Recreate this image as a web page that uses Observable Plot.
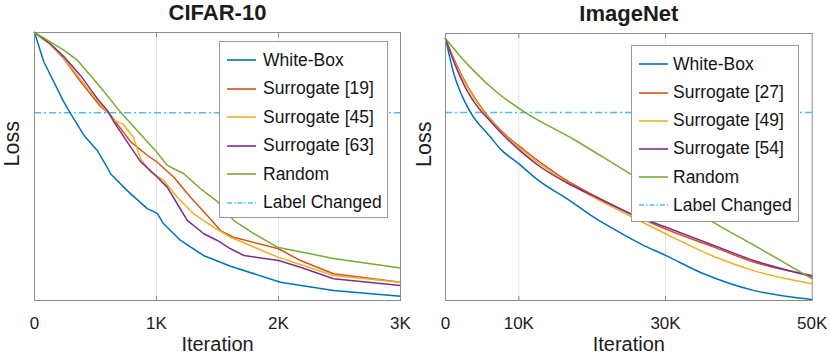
<!DOCTYPE html>
<html>
<head>
<meta charset="utf-8">
<script src="https://cdn.jsdelivr.net/npm/d3@7"></script>
<script src="https://cdn.jsdelivr.net/npm/@observablehq/plot@0.6"></script>
<style>
  body { margin: 0; background: #fff; font-family: "Liberation Sans", Arial, sans-serif; }
  #wrap { position: relative; width: 830px; height: 355px; overflow: hidden; }
  .panel { position: absolute; top: 0; }
  .legend { position: absolute; background: #fff; border: 1px solid #9a9a9a; box-sizing: border-box; font-size: 17.5px; color: #151515; }
  .row { position: absolute; left: 0; height: 20px; display: flex; align-items: center; white-space: nowrap; }
  .row svg { display: block; }
</style>
</head>
<body>
<div id="wrap"></div>
<script>
// ---------- CIFAR-10 (left) ----------
const cifarTitle = "CIFAR-10";
const cifarTicks = [0, 1000, 2000, 3000];
const cifarTickLabels = ["0", "1K", "2K", "3K"];
const cifarGrid = [1000, 2000];
const cifarLabelChanged = 0.701;
const cifarNames = ["White-Box", "Surrogate [19]", "Surrogate [45]", "Surrogate [63]", "Random"];

const cifarWhiteBoxX = [0, 76, 240, 295, 404, 514, 596, 623, 760, 924, 1006, 1057, 1197, 1385, 1607, 2016, 2450, 3000];
const cifarWhiteBoxY = [1.0, 0.891, 0.741, 0.698, 0.617, 0.56, 0.497, 0.473, 0.41, 0.343, 0.325, 0.287, 0.224, 0.168, 0.128, 0.068, 0.037, 0.016];

const cifarSur19X = [0, 130, 240, 377, 541, 623, 787, 924, 1006, 1142, 1279, 1416, 1525, 1631, 2000, 2180, 2451, 3000];
const cifarSur19Y = [1.0, 0.955, 0.903, 0.817, 0.724, 0.692, 0.593, 0.542, 0.516, 0.46, 0.385, 0.317, 0.261, 0.236, 0.193, 0.149, 0.1, 0.068];

const cifarSur45X = [0, 130, 238, 377, 541, 623, 650, 729, 811, 869, 951, 1060, 1170, 1306, 1470, 1607, 2000, 2451, 3000];
const cifarSur45Y = [1.0, 0.955, 0.907, 0.825, 0.731, 0.69, 0.673, 0.657, 0.608, 0.53, 0.479, 0.448, 0.385, 0.323, 0.273, 0.236, 0.161, 0.093, 0.068];

const cifarSur63X = [0, 130, 240, 377, 514, 596, 650, 760, 869, 978, 1088, 1170, 1252, 1388, 1498, 1607, 1716, 2000, 2180, 2451, 3000];
const cifarSur63Y = [1.0, 0.958, 0.91, 0.84, 0.754, 0.71, 0.667, 0.592, 0.518, 0.473, 0.423, 0.361, 0.299, 0.249, 0.224, 0.193, 0.168, 0.149, 0.124, 0.081, 0.056];

const cifarRandomX = [0, 130, 240, 350, 541, 705, 869, 1000, 1088, 1224, 1361, 1498, 1634, 1800, 1990, 2450, 3000];
const cifarRandomY = [1.0, 0.965, 0.934, 0.897, 0.796, 0.703, 0.62, 0.555, 0.504, 0.473, 0.417, 0.37, 0.298, 0.249, 0.199, 0.157, 0.121];

// ---------- ImageNet (right) ----------
const imagenetTitle = "ImageNet";
const imagenetTicks = [0, 10000, 30000, 50000];
const imagenetTickLabels = ["0", "10K", "30K", "50K"];
const imagenetGrid = [10000, 30000];
const imagenetLabelChanged = 0.704;
const imagenetNames = ["White-Box", "Surrogate [27]", "Surrogate [49]", "Surrogate [54]", "Random"];

const imagenetWhiteBoxX = [0, 500, 1130, 2200, 3410, 6140, 7500, 10000, 12950, 16600, 20200, 22900, 26600, 30000, 35200, 42100, 50000];
const imagenetWhiteBoxY = [0.981, 0.92, 0.85, 0.77, 0.705, 0.612, 0.567, 0.512, 0.444, 0.381, 0.312, 0.268, 0.212, 0.169, 0.1, 0.037, 0.004];

const imagenetSur27X = [0, 1130, 2960, 5220, 8410, 10900, 13400, 16130, 19770, 24770, 30000, 36600, 42000, 50000];
const imagenetSur27Y = [0.981, 0.905, 0.805, 0.71, 0.615, 0.56, 0.508, 0.456, 0.4, 0.331, 0.268, 0.2, 0.144, 0.094];

const imagenetSur49X = [0, 1130, 2960, 5220, 8410, 10900, 13400, 16130, 19770, 24770, 30000, 36600, 42000, 50000];
const imagenetSur49Y = [0.981, 0.9, 0.8, 0.705, 0.61, 0.553, 0.5, 0.45, 0.393, 0.322, 0.25, 0.165, 0.112, 0.0625];

const imagenetSur54X = [0, 1130, 2960, 3860, 6140, 8410, 10000, 12950, 16600, 20700, 25200, 30000, 36600, 42000, 50000];
const imagenetSur54Y = [0.981, 0.895, 0.785, 0.745, 0.67, 0.605, 0.565, 0.5, 0.44, 0.385, 0.325, 0.275, 0.206, 0.15, 0.09];

const imagenetRandomX = [0, 2000, 3860, 7000, 10900, 17500, 23860, 30000, 37500, 44300, 50000];
const imagenetRandomY = [0.981, 0.915, 0.86, 0.78, 0.704, 0.603, 0.497, 0.395, 0.277, 0.172, 0.081];

// ---------- styling ----------
const colors = ["#0072BD", "#D95319", "#EDB120", "#7E2F8E", "#77AC30"];
const labelColor = "#4DBEEE";
const labelDash = "7,3,2,3";
const fontFamily = "'Liberation Sans', Arial, sans-serif";

function makeSeries(names, xs, ys) {
  return names.map((name, i) => ({ name, color: colors[i], x: xs[i], y: ys[i] }));
}

function panel(cfg) {
  const marks = [
    Plot.gridX(cfg.grid, { stroke: "#e3e3e3", strokeOpacity: 1, strokeWidth: 1 }),
    Plot.ruleY([cfg.labelY], { stroke: labelColor, strokeWidth: 1.5, strokeDasharray: labelDash })
  ];
  for (const s of cfg.series) {
    const rows = s.x.map((x, i) => ({ x, y: s.y[i] }));
    marks.push(Plot.line(rows, { x: "x", y: "y", stroke: s.color, strokeWidth: 1.5, curve: cfg.curve }));
  }
  marks.push(
    Plot.frame({ stroke: "#8c8c8c", strokeWidth: 1 }),
    Plot.axisX(cfg.grid, { anchor: "bottom", tickSize: -4, tickFormat: () => "", label: null, stroke: "#8c8c8c" }),
    Plot.axisX(cfg.grid, { anchor: "top", tickSize: -4, tickFormat: () => "", label: null, stroke: "#8c8c8c" }),
    Plot.axisX(cfg.ticks, {
      anchor: "bottom", tickSize: 0, tickPadding: 16.5, fontSize: 17, label: null,
      tickFormat: d => cfg.tickLabels[cfg.ticks.indexOf(d)]
    }),
    Plot.text([cfg.title], { text: d => d, frameAnchor: "top", lineAnchor: "top", dy: -28, fontSize: 22, fontWeight: "bold" }),
    Plot.text(["Iteration"], { text: d => d, frameAnchor: "bottom", lineAnchor: "top", dy: 35.8, fontSize: 20 }),
    Plot.text(["Loss"], { text: d => d, frameAnchor: "left", rotate: -90, lineAnchor: "middle", dx: cfg.yLabelDx, fontSize: 21.5 })
  );
  return Plot.plot({
    width: 415, height: 355,
    marginLeft: cfg.mL, marginRight: cfg.mR, marginTop: cfg.mT, marginBottom: 55,
    style: { fontFamily, overflow: "visible", background: "transparent", color: "#1c1c1c" },
    x: { domain: [0, cfg.xMax], axis: null },
    y: { domain: [0, 1], axis: null },
    marks
  });
}

function legend(cfg) {
  const div = document.createElement("div");
  div.className = "legend";
  Object.assign(div.style, { left: cfg.left + "px", top: cfg.top + "px", width: cfg.w + "px", height: cfg.h + "px" });
  const items = cfg.series.map(s => ({ name: s.name, color: s.color, dash: null }))
    .concat([{ name: "Label Changed", color: labelColor, dash: "5,2,1.5,2" }]);
  items.forEach((it, i) => {
    const row = document.createElement("div");
    row.className = "row";
    row.style.top = (cfg.first + cfg.step * i - 10) + "px";
    const ns = "http://www.w3.org/2000/svg";
    const svg = document.createElementNS(ns, "svg");
    svg.setAttribute("width", cfg.textX);
    svg.setAttribute("height", 20);
    const ln = document.createElementNS(ns, "line");
    ln.setAttribute("x1", 7); ln.setAttribute("x2", 36);
    ln.setAttribute("y1", 10); ln.setAttribute("y2", 10);
    ln.setAttribute("stroke", it.color); ln.setAttribute("stroke-width", 1.6);
    if (it.dash) ln.setAttribute("stroke-dasharray", it.dash);
    svg.appendChild(ln);
    row.appendChild(svg);
    const sp = document.createElement("span");
    sp.textContent = it.name;
    row.appendChild(sp);
    div.appendChild(row);
  });
  return div;
}

const wrap = document.getElementById("wrap");

const cifarSeries = makeSeries(cifarNames,
  [cifarWhiteBoxX, cifarSur19X, cifarSur45X, cifarSur63X, cifarRandomX],
  [cifarWhiteBoxY, cifarSur19Y, cifarSur45Y, cifarSur63Y, cifarRandomY]);
const imagenetSeries = makeSeries(imagenetNames,
  [imagenetWhiteBoxX, imagenetSur27X, imagenetSur49X, imagenetSur54X, imagenetRandomX],
  [imagenetWhiteBoxY, imagenetSur27Y, imagenetSur49Y, imagenetSur54Y, imagenetRandomY]);

const left = panel({
  title: cifarTitle, series: cifarSeries, labelY: cifarLabelChanged, xMax: 3000,
  grid: cifarGrid, ticks: cifarTicks, tickLabels: cifarTickLabels,
  mL: 34, mR: 15, mT: 32, yLabelDx: -22, curve: "linear"
});
left.classList.add("panel");
left.style.left = "0px";
wrap.appendChild(left);

const right = panel({
  title: imagenetTitle, series: imagenetSeries, labelY: imagenetLabelChanged, xMax: 50000,
  grid: imagenetGrid, ticks: imagenetTicks, tickLabels: imagenetTickLabels,
  mL: 30, mR: 18.3, mT: 33, yLabelDx: -21, curve: "monotone-x"
});
right.classList.add("panel");
right.style.left = "415px";
wrap.appendChild(right);

wrap.appendChild(legend({ series: cifarSeries, left: 219, top: 41, w: 169, h: 177, first: 18, step: 28.5, textX: 43 }));
wrap.appendChild(legend({ series: imagenetSeries, left: 631, top: 45, w: 168, h: 177, first: 18.3, step: 28.2, textX: 41 }));
</script>
</body>
</html>
